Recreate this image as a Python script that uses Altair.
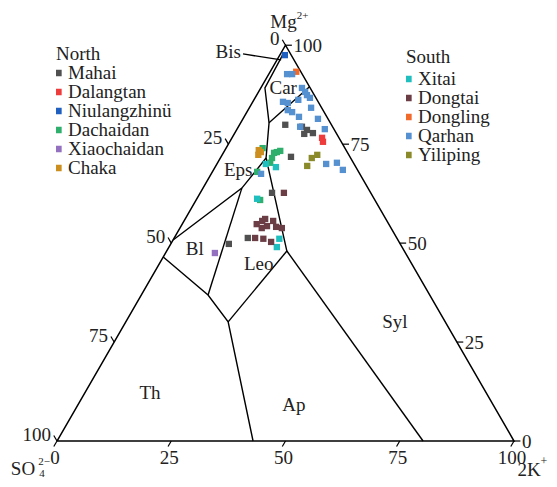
import altair as alt
import pandas as pd

# ---- data: ternary compositions (K = 2K+ %, Mg = Mg2+ %, SO4 = 100 - K - Mg)
north_names = ["Mahai", "Dalangtan", "Niulangzhinü", "Dachaidan", "Xiaochaidan", "Chaka"]
north_colors = ["#505050", "#ee3b3b", "#1f5fbf", "#2eaf6b", "#9370c0", "#cc8f1f"]
south_names = ["Xitai", "Dongtai", "Dongling", "Qarhan", "Yiliping"]
south_colors = ["#1fbfbf", "#6b3e46", "#f26a2a", "#5590d0", "#8a8a2a"]

mahai_k = [10.0, 13.9, 15.4, 15.3, 17.1, 15.3, 15.7, 16.1, 12.7]
mahai_mg = [79.9, 79.4, 78.6, 77.6, 77.8, 71.8, 62.7, 51.3, 49.8]
dalangtan_k = [19.7, 20.4]
dalangtan_mg = [76.6, 75.6]
niulangzhinu_k = [1.1]
niulangzhinu_mg = [97.5]
dachaidan_k = [8.0, 11.3, 11.1, 11.6, 12.2, 11.5, 9.8, 14.0]
dachaidan_mg = [74.0, 71.5, 72.8, 73.0, 73.3, 70.3, 68.0, 60.9]
xiaochaidan_k = [10.8]
xiaochaidan_mg = [47.5]
chaka_k = [7.4, 7.9, 8.1]
chaka_mg = [73.5, 72.3, 73.0]

xitai_k = [10.7, 13.3, 13.2, 23.1, 23.6]
xitai_mg = [70.0, 69.2, 61.2, 51.1, 49.0]
dongtai_k = [18.3, 16.3, 17.1, 17.5, 18.8, 19.5, 20.9, 22.3, 17.9, 17.7, 19.6, 21.7]
dongtai_mg = [62.7, 54.8, 55.6, 56.1, 54.3, 55.6, 54.1, 53.8, 53.8, 51.3, 51.1, 50.3]
dongling_k = [5.7]
dongling_mg = [93.3]
qarhan_k = [4.0, 5.1, 9.0, 10.2, 11.0, 12.0, 9.7, 6.6, 7.8, 8.7, 9.9, 12.0, 16.4, 13.5, 19.2, 13.5,
            23.9, 26.1, 28.3, 10.9]
qarhan_mg = [92.7, 92.7, 89.2, 88.2, 87.4, 86.7, 86.2, 85.7, 85.4, 83.6, 83.1, 81.9, 81.4, 79.4, 78.8, 84.2,
             70.0, 70.3, 68.5, 67.5]
yiliping_k = [20.0, 20.0, 20.8]
yiliping_mg = [69.5, 71.5, 72.3]

# phase-field boundaries (K, Mg)
line_a = [(0.6, 97.8), (0.9, 89.2), (6.2, 80.4), (10.0, 71.5), (26.3, 48.0)]
line_car = [(6.2, 80.4), (10.5, 89.5)]
line_eps = [(10.0, 71.5), (8.5, 63.9), (0.0, 50.8)]
line_bl = [(8.5, 63.9), (14.6, 36.9)]
line_th = [(0.0, 46.5), (14.6, 36.9), (22.4, 30.1), (42.9, 0.0)]
line_leo = [(22.4, 30.1), (26.3, 48.0)]
line_syl = [(26.3, 48.0), (80.1, 0.0)]
pointer_bis = [(-8.2, 97.8), (0.9, 96.3)]

triangle = [(0, 0), (100, 0), (0, 100), (0, 0)]
tick_values = [0, 25, 50, 75, 100]

field_names = ["Bis", "Car", "Eps", "Bl", "Leo", "Th", "Ap", "Syl"]
field_k = [-11.7, 4.9, 5.4, 5.9, 21.8, 14.3, 47.3, 58.9]
field_mg = [98.3, 89.2, 68.5, 48.5, 44.7, 12.1, 9.1, 30.1]

FONT = "Liberation Serif"
xs = alt.Scale(domain=[-10.722, 107.659], nice=False, zero=False)
ys = alt.Scale(domain=[-8.315, 94.748], nice=False, zero=False)
X = alt.X("x:Q", scale=xs, axis=None)
Y = alt.Y("y:Q", scale=ys, axis=None)


def tern(df):
    return alt.Chart(df).transform_calculate(
        x="datum.K + datum.Mg / 2", y="datum.Mg * 0.8660254"
    )


def poly_df(lines):
    rows = []
    for s, pts in enumerate(lines):
        for i, (k, m) in enumerate(pts):
            rows.append({"seg": s, "i": i, "K": k, "Mg": m})
    return pd.DataFrame(rows)


outline = tern(poly_df([triangle])).mark_line(color="black", strokeWidth=1.5).encode(
    x=X, y=Y, order="i:Q", detail="seg:N")
bounds = tern(poly_df([line_a, line_car, line_eps, line_bl, line_th, line_leo, line_syl, pointer_bis])).mark_line(
    color="black", strokeWidth=1.4).encode(x=X, y=Y, order="i:Q", detail="seg:N")

# ticks
trows = []
for v in tick_values:
    trows.append({"K": v, "Mg": 0, "K2": v, "Mg2": -1.4})  # bottom (2K+)
    trows.append({"K": 0, "Mg": 100 - v, "K2": -1.4, "Mg2": 100 - v + 1.4})  # left (SO4)
    trows.append({"K": 100 - v, "Mg": v, "K2": 100 - v + 1.4, "Mg2": v})  # right (Mg)
ticks = tern(pd.DataFrame(trows)).transform_calculate(
    x2="datum.K2 + datum.Mg2 / 2", y2="datum.Mg2 * 0.8660254"
).mark_rule(color="black", strokeWidth=1.2).encode(x=X, y=Y, x2="x2:Q", y2="y2:Q")

bottom_df = pd.DataFrame({"K": tick_values, "Mg": [0] * 5, "t": [str(v) for v in tick_values]})
left_df = pd.DataFrame({"K": [0] * 5, "Mg": [100 - v for v in tick_values], "t": [str(v) for v in tick_values]})
right_df = pd.DataFrame({"K": [100 - v for v in tick_values], "Mg": tick_values, "t": [str(v) for v in tick_values]})
tfont = dict(font=FONT, fontSize=19, color="#222")
bottom_lbl = tern(bottom_df).mark_text(align="center", baseline="middle", dx=-2, dy=17, **tfont).encode(x=X, y=Y, text="t:N")
left_lbl = tern(left_df).mark_text(align="right", baseline="middle", dx=-6, dy=-6, **tfont).encode(x=X, y=Y, text="t:N")
right_lbl = tern(right_df).mark_text(align="left", baseline="middle", dx=8, dy=1, **tfont).encode(x=X, y=Y, text="t:N")

fields_df = pd.DataFrame({"K": field_k, "Mg": field_mg, "t": field_names})
field_lbl = tern(fields_df).mark_text(align="center", baseline="middle", **tfont).encode(x=X, y=Y, text="t:N")

# vertex titles
apex = pd.DataFrame({"K": [0], "Mg": [100]})
left_v = pd.DataFrame({"K": [0], "Mg": [0]})
right_v = pd.DataFrame({"K": [100], "Mg": [0]})
small = dict(font=FONT, fontSize=11, color="#222")
vt = [
    tern(apex).mark_text(text="Mg", align="center", baseline="middle", dx=-2, dy=-23, **tfont).encode(x=X, y=Y),
    tern(apex).mark_text(text="2+", align="center", baseline="middle", dx=17, dy=-29, **small).encode(x=X, y=Y),
    tern(left_v).mark_text(text="SO", align="center", baseline="middle", dx=-34, dy=28, **tfont).encode(x=X, y=Y),
    tern(left_v).mark_text(text="2−", align="center", baseline="middle", dx=-13, dy=21, **small).encode(x=X, y=Y),
    tern(left_v).mark_text(text="4", align="center", baseline="middle", dx=-15, dy=33, **small).encode(x=X, y=Y),
    tern(right_v).mark_text(text="2K", align="center", baseline="middle", dx=15, dy=29, **tfont).encode(x=X, y=Y),
    tern(right_v).mark_text(text="+", align="center", baseline="middle", dx=30, dy=20, font=FONT, fontSize=12, color="#222").encode(x=X, y=Y),
]


def series_df(names, ks, ms):
    rows = []
    for n, kk, mm in zip(names, ks, ms):
        for k, m in zip(kk, mm):
            rows.append({"series": n, "K": k, "Mg": m})
    return pd.DataFrame(rows)


north_df = series_df(north_names,
                     [mahai_k, dalangtan_k, niulangzhinu_k, dachaidan_k, xiaochaidan_k, chaka_k],
                     [mahai_mg, dalangtan_mg, niulangzhinu_mg, dachaidan_mg, xiaochaidan_mg, chaka_mg])
south_df = series_df(south_names,
                     [xitai_k, dongtai_k, dongling_k, qarhan_k, yiliping_k],
                     [xitai_mg, dongtai_mg, dongling_mg, qarhan_mg, yiliping_mg])

leg_common = dict(orient="none", symbolType="square", symbolSize=40, symbolStrokeWidth=0,
                  labelFont=FONT, labelFontSize=19, labelColor="#222", titleFont=FONT, titleFontSize=19,
                  titleFontWeight="normal", titleColor="#222", rowPadding=0, clipHeight=18,
                  labelOffset=0, symbolOffset=-7, padding=0)

north_pts = tern(north_df).mark_square(size=40, opacity=1).encode(
    x=X, y=Y,
    color=alt.Color("series:N", scale=alt.Scale(domain=north_names, range=north_colors),
                    legend=alt.Legend(title="North", legendX=48, legendY=37, titlePadding=0, **leg_common)))
south_pts = tern(south_df).mark_square(size=40, opacity=1).encode(
    x=X, y=Y,
    color=alt.Color("series:N", scale=alt.Scale(domain=south_names, range=south_colors),
                    legend=alt.Legend(title="South", legendX=398, legendY=40, titlePadding=3, **leg_common)))

chart = alt.layer(
    outline, bounds, ticks, bottom_lbl, left_lbl, right_lbl, field_lbl, *vt, north_pts, south_pts
).resolve_scale(color="independent").properties(
    width=541, height=471, autosize=alt.AutoSizeParams(type="none"), padding=0
).configure_view(stroke=None)

chart.save("out.html", embed_options={"renderer": "svg", "actions": False})
